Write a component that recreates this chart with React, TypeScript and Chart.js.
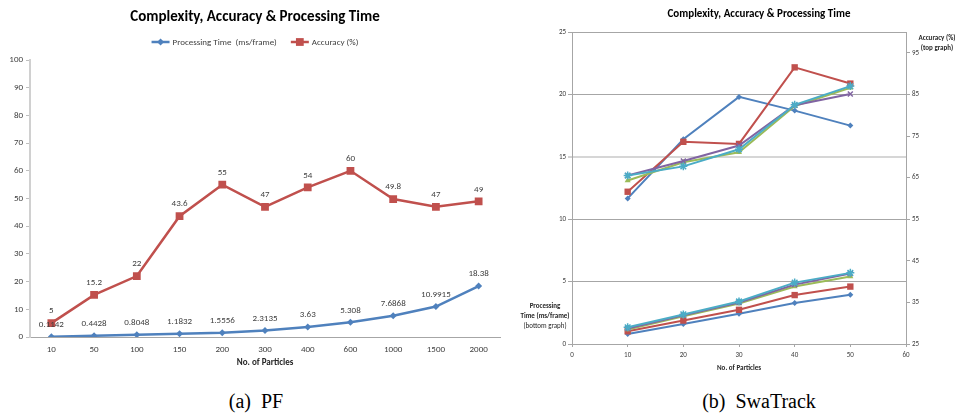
import React, { useEffect, useRef } from 'react';
import { Chart, registerables } from 'chart.js';

Chart.register(...registerables);

// ---------- Data: (a) PF ----------
const pfParticles = ['10', '50', '100', '150', '200', '300', '400', '600', '1000', '1500', '2000'];
const pfProcessingTime = [0.1142, 0.4428, 0.8048, 1.1832, 1.5556, 2.3135, 3.63, 5.308, 7.6868, 10.9915, 18.38];
const pfAccuracy = [5, 15.2, 22, 43.6, 55, 47, 54, 60, 49.8, 47, 49];

// ---------- Data: (b) SwaTrack ----------
const swaParticles = [10, 20, 30, 40, 50];
// top graph: accuracy (%) on right axis
const swaAccBlue = [60.0, 74.2, 84.4, 81.1, 77.5];
const swaAccRed = [61.6, 73.6, 73.1, 91.5, 87.6];
const swaAccGreen = [64.3, 68.7, 71.1, 82.2, 86.6];
const swaAccPurple = [65.5, 69.0, 72.7, 82.4, 85.1];
const swaAccCyan = [65.5, 67.7, 71.8, 82.5, 87.0];
// bottom graph: processing time (ms/frame) on left axis
const swaTimeBlue = [0.81, 1.61, 2.42, 3.28, 3.95];
const swaTimeRed = [1.02, 1.88, 2.74, 3.92, 4.6];
const swaTimeGreen = [1.16, 2.23, 3.25, 4.6, 5.4];
const swaTimePurple = [1.24, 2.31, 3.33, 4.76, 5.65];
const swaTimeCyan = [1.34, 2.37, 3.41, 4.92, 5.7];
const swaAccTicks = [25, 35, 45, 55, 65, 75, 85, 95];

const FONT = "Carlito, 'Liberation Sans Narrow', Lato, sans-serif";
const BLUE = '#4F81BD';
const RED = '#C0504D';
const GREEN = '#9BBB59';
const PURPLE = '#8064A2';
const CYAN = '#4BACC6';
const TEXT = '#404040';

function drawMarker(ctx: CanvasRenderingContext2D, style: string, x: number, y: number, r: number, color: string) {
  ctx.save();
  ctx.fillStyle = color;
  ctx.strokeStyle = color;
  ctx.beginPath();
  if (style === 'rect') {
    const s = r * Math.SQRT1_2;
    ctx.rect(x - s, y - s, 2 * s, 2 * s);
  } else {
    ctx.moveTo(x, y - r);
    ctx.lineTo(x + r, y);
    ctx.lineTo(x, y + r);
    ctx.lineTo(x - r, y);
    ctx.closePath();
  }
  ctx.fill();
  ctx.restore();
}

const pfLegendPlugin = {
  id: 'pfLegend',
  afterDraw(chart: any) {
    const ctx: CanvasRenderingContext2D = chart.ctx;
    ctx.save();
    ctx.font = `9px ${FONT}`;
    const lineW = 18;
    const gap = 3;
    const itemGap = 14;
    const items = chart.data.datasets.map((ds: any) => ({ ds, w: ctx.measureText(ds.label).width }));
    const total = items.reduce((a: number, it: any) => a + lineW + gap + it.w, 0) + itemGap * (items.length - 1);
    let x = chart.width / 2 - total / 2;
    const y = 42;
    for (const it of items) {
      ctx.strokeStyle = it.ds.borderColor;
      ctx.lineWidth = 2.5;
      ctx.beginPath();
      ctx.moveTo(x, y);
      ctx.lineTo(x + lineW, y);
      ctx.stroke();
      drawMarker(ctx, it.ds.pointStyle, x + lineW / 2, y, it.ds.pointRadius, it.ds.borderColor);
      ctx.fillStyle = TEXT;
      ctx.textAlign = 'left';
      ctx.textBaseline = 'middle';
      ctx.fillText(it.ds.label, x + lineW + gap, y + 0.5);
      x += lineW + gap + it.w + itemGap;
    }
    ctx.restore();
  },
};

const pfValueLabelsPlugin = {
  id: 'pfValueLabels',
  afterDatasetsDraw(chart: any) {
    const ctx: CanvasRenderingContext2D = chart.ctx;
    ctx.save();
    ctx.font = `9px ${FONT}`;
    ctx.fillStyle = TEXT;
    ctx.textAlign = 'center';
    ctx.textBaseline = 'middle';
    chart.data.datasets.forEach((ds: any, i: number) => {
      const meta = chart.getDatasetMeta(i);
      meta.data.forEach((pt: any, j: number) => {
        ctx.fillText(String(ds.data[j]), pt.x, pt.y - 12);
      });
    });
    ctx.restore();
  },
};

function PFChart() {
  const ref = useRef<HTMLCanvasElement>(null);
  useEffect(() => {
    const chart = new Chart(ref.current!, {
      type: 'line',
      data: {
        labels: pfParticles,
        datasets: [
          {
            label: 'Processing Time  (ms/frame)',
            data: pfProcessingTime,
            borderColor: BLUE,
            backgroundColor: BLUE,
            borderWidth: 2.5,
            pointStyle: 'rectRot',
            pointRadius: 3.5,
            pointBorderWidth: 0,
            tension: 0,
          },
          {
            label: 'Accuracy (%)',
            data: pfAccuracy,
            borderColor: RED,
            backgroundColor: RED,
            borderWidth: 2.5,
            pointStyle: 'rect',
            pointRadius: 5.5,
            pointBorderWidth: 0,
            tension: 0,
          },
        ],
      },
      options: {
        responsive: false,
        animation: false,
        events: [],
        layout: { padding: 0 },
        plugins: {
          legend: { display: false },
          tooltip: { enabled: false },
          title: {
            display: true,
            text: 'Complexity, Accuracy & Processing Time',
            color: '#000',
            font: { family: FONT, size: 15, weight: 'bold' },
            padding: { top: 8, bottom: 34 },
          },
        },
        scales: {
          x: {
            type: 'category',
            offset: true,
            grid: { display: false, drawTicks: false },
            border: { display: true, color: '#a6a6a6', width: 1 },
            ticks: { color: TEXT, font: { family: FONT, size: 9 }, padding: 7, maxRotation: 0, autoSkip: false },
            title: {
              display: true,
              text: 'No. of Particles',
              color: '#262626',
              font: { family: FONT, size: 9, weight: 'bold' },
              padding: { top: 0, bottom: 12 },
            },
            afterFit: (s: any) => { s.height = 43; },
          },
          y: {
            type: 'linear',
            min: 0,
            max: 100,
            ticks: { stepSize: 10, color: TEXT, font: { family: FONT, size: 9 }, padding: 3 },
            grid: { drawOnChartArea: false, tickLength: 4, color: '#bfbfbf' },
            border: { display: true, color: '#d0d0d0', width: 2 },
            afterFit: (s: any) => { s.width = 30; },
          },
          pad: {
            type: 'linear',
            position: 'right',
            display: true,
            ticks: { display: false },
            grid: { display: false, drawTicks: false },
            border: { display: false },
            afterFit: (s: any) => { s.width = 10; },
          },
        },
      },
      plugins: [pfLegendPlugin, pfValueLabelsPlugin],
    } as any);
    return () => chart.destroy();
  }, []);
  return <canvas ref={ref} width={510} height={380} style={{ width: 510, height: 380, display: 'block' }} />;
}

function swaDataset(label: string, data: number[], color: string, pointStyle: string, r: number, axis: string) {
  return {
    label,
    data: data.map((v, i) => ({ x: swaParticles[i], y: v })),
    borderColor: color,
    backgroundColor: color,
    borderWidth: 2,
    pointStyle,
    pointRadius: r,
    pointBorderWidth: pointStyle === 'crossRot' || pointStyle === 'star' ? 1.5 : 0,
    pointBorderColor: color,
    tension: 0,
    yAxisID: axis,
  };
}

function SwaChart() {
  const ref = useRef<HTMLCanvasElement>(null);
  useEffect(() => {
    const chart = new Chart(ref.current!, {
      type: 'line',
      data: {
        datasets: [
          swaDataset('Acc 5', swaAccCyan, CYAN, 'star', 4, 'yR'),
          swaDataset('Acc 4', swaAccPurple, PURPLE, 'crossRot', 3.5, 'yR'),
          swaDataset('Acc 3', swaAccGreen, GREEN, 'triangle', 3.5, 'yR'),
          swaDataset('Acc 2', swaAccRed, RED, 'rect', 4.5, 'yR'),
          swaDataset('Acc 1', swaAccBlue, BLUE, 'rectRot', 3, 'yR'),
          swaDataset('Time 5', swaTimeCyan, CYAN, 'star', 4, 'y'),
          swaDataset('Time 4', swaTimePurple, PURPLE, 'crossRot', 3.5, 'y'),
          swaDataset('Time 3', swaTimeGreen, GREEN, 'triangle', 3.5, 'y'),
          swaDataset('Time 2', swaTimeRed, RED, 'rect', 4.5, 'y'),
          swaDataset('Time 1', swaTimeBlue, BLUE, 'rectRot', 3, 'y'),
        ],
      },
      options: {
        responsive: false,
        animation: false,
        events: [],
        layout: { padding: 0 },
        plugins: {
          legend: { display: false },
          tooltip: { enabled: false },
          title: {
            display: true,
            text: 'Complexity, Accuracy & Processing Time',
            color: '#000',
            font: { family: FONT, size: 11, weight: 'bold' },
            padding: { top: 8, bottom: 10.8 },
          },
        },
        scales: {
          x: {
            type: 'linear',
            min: 0,
            max: 60,
            ticks: { stepSize: 10, color: TEXT, font: { family: FONT, size: 7 }, padding: 4, maxRotation: 0 },
            grid: { drawOnChartArea: false, tickLength: 3, color: '#a6a6a6' },
            border: { display: true, color: '#a6a6a6', width: 1 },
            title: {
              display: true,
              text: 'No. of Particles',
              color: '#262626',
              font: { family: FONT, size: 7, weight: 'bold' },
              padding: { top: 0, bottom: 7.5 },
            },
            afterFit: (s: any) => { s.height = 36; },
          },
          y: {
            type: 'linear',
            position: 'left',
            min: 0,
            max: 25,
            ticks: { stepSize: 5, color: TEXT, font: { family: FONT, size: 7 }, padding: 2 },
            grid: {
              color: (c: any) => (c.tick && c.tick.value === 15 ? '#d6d6d6' : '#a6a6a6'),
              lineWidth: (c: any) => (c.tick && c.tick.value === 15 ? 2 : 1),
              tickColor: '#a6a6a6',
              tickWidth: 1,
              tickLength: 4,
            },
            border: { display: true, color: '#a6a6a6', width: 1 },
            afterFit: (s: any) => { s.width = 13; },
          },
          yR: {
            type: 'linear',
            position: 'right',
            min: 25,
            max: 100,
            afterBuildTicks: (axis: any) => { axis.ticks = swaAccTicks.map((v) => ({ value: v })); },
            ticks: { color: TEXT, font: { family: FONT, size: 7 }, padding: 2 },
            grid: { drawOnChartArea: false, tickLength: 4, color: '#a6a6a6' },
            border: { display: true, color: '#a6a6a6', width: 1 },
            afterFit: (s: any) => { s.width = 53; },
          },
        },
      },
    } as any);
    return () => chart.destroy();
  }, []);
  return <canvas ref={ref} width={400} height={380} style={{ width: 400, height: 380, display: 'block' }} />;
}

const smallLabel: React.CSSProperties = {
  position: 'absolute',
  transform: 'translateX(-50%)',
  whiteSpace: 'nowrap',
  fontFamily: FONT,
  fontSize: 7,
  lineHeight: '10px',
  color: '#262626',
  textAlign: 'center',
};

const caption: React.CSSProperties = {
  position: 'absolute',
  transform: 'translateX(-50%)',
  whiteSpace: 'pre',
  fontFamily: "'Liberation Serif', 'DejaVu Serif', serif",
  fontSize: 20,
  lineHeight: '24px',
  color: '#000',
};

export default function App() {
  useEffect(() => {
    document.body.style.margin = '0';
  }, []);
  return (
    <div style={{ position: 'relative', width: 959, height: 416, overflow: 'hidden', background: '#fff' }}>
      <div style={{ position: 'absolute', left: 0, top: 0 }}>
        <PFChart />
      </div>
      <div style={{ position: 'absolute', left: 559, top: 0 }}>
        <SwaChart />
      </div>
      <div style={{ ...smallLabel, left: 545, top: 301 }}>
        <div style={{ fontWeight: 'bold' }}>Processing</div>
        <div style={{ fontWeight: 'bold' }}>Time (ms/frame)</div>
        <div>(bottom graph)</div>
      </div>
      <div style={{ ...smallLabel, left: 937, top: 33, fontWeight: 'bold' }}>
        <div>Accuracy (%)</div>
        <div>(top graph)</div>
      </div>
      <div style={{ ...caption, left: 256, top: 389 }}>{'(a)  PF'}</div>
      <div style={{ ...caption, left: 759, top: 389 }}>{'(b)  SwaTrack'}</div>
    </div>
  );
}
